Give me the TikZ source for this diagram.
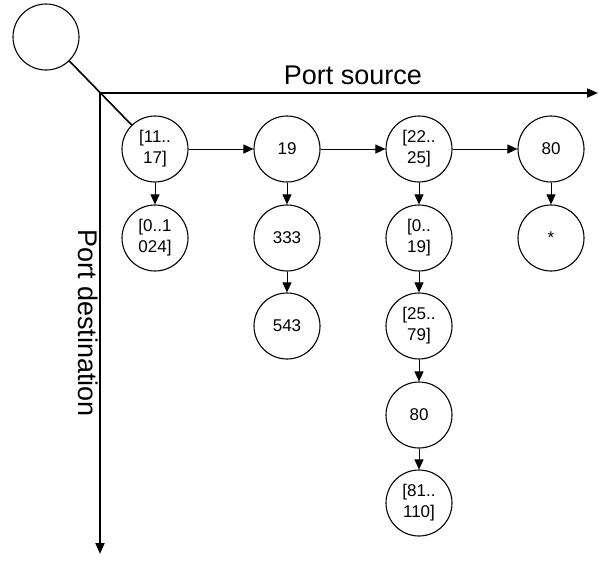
\documentclass[tikz,border=0pt]{standalone}
\usepackage{fontspec}
\setmainfont{Liberation Sans}
\usetikzlibrary{arrows.meta}
\begin{document}
\begin{tikzpicture}[x=1pt,y=-1pt,
  state/.style={circle,draw,line width=1.1pt,minimum size=66pt,inner sep=0pt,
                align=center,font=\fontsize{17}{21}\selectfont},
  link/.style={line width=0.9pt,-{Triangle[length=10pt,width=9pt]}},
  axis/.style={line width=1.8pt,-{Triangle[length=11pt,width=9pt]}},
  axlabel/.style={font=\fontsize{27}{30}\selectfont,inner sep=0pt}]
\useasboundingbox (0,0) rectangle (599,560);

% root of the tree
\node[state] (root) at (46,37) {};

% the two axes
\coordinate (o) at (100,93);
\coordinate (xend) at (598,93);
\coordinate (yend) at (100,554);
\draw[axis] (o) -- (xend);
\draw[axis] (o) -- (yend);
\node[axlabel,anchor=base] (xl) at (353,84) {Port source};
\node[axlabel,rotate=-90] (yl) at (88,323) {Port destination};

% source port ranges (first level)
\node[state] (a1) at (155,149) {[11..\\17]};
\node[state] (b1) at (287,149) {19};
\node[state] (c1) at (419,149) {[22..\\25]};
\node[state] (d1) at (551,149) {80};

% destination port ranges (second level)
\node[state] (a2) at (155,238) {[0..1\\024]};
\node[state] (b2) at (287,238) {333};
\node[state] (b3) at (287,326) {543};
\node[state] (c2) at (419,238) {[0..\\19]};
\node[state] (c3) at (419,326) {[25..\\79]};
\node[state] (c4) at (419,415) {80};
\node[state] (c5) at (419,503) {[81..\\110]};
\node[state] (d2) at (551,238) {*};

% links
\draw[line width=1.6pt] (root) -- (a1);
\draw[link] (a1) -- (b1);
\draw[link] (b1) -- (c1);
\draw[link] (c1) -- (d1);
\draw[link] (a1) -- (a2);
\draw[link] (b1) -- (b2);
\draw[link] (b2) -- (b3);
\draw[link] (c1) -- (c2);
\draw[link] (c2) -- (c3);
\draw[link] (c3) -- (c4);
\draw[link] (c4) -- (c5);
\draw[link] (d1) -- (d2);
\end{tikzpicture}
\end{document}
